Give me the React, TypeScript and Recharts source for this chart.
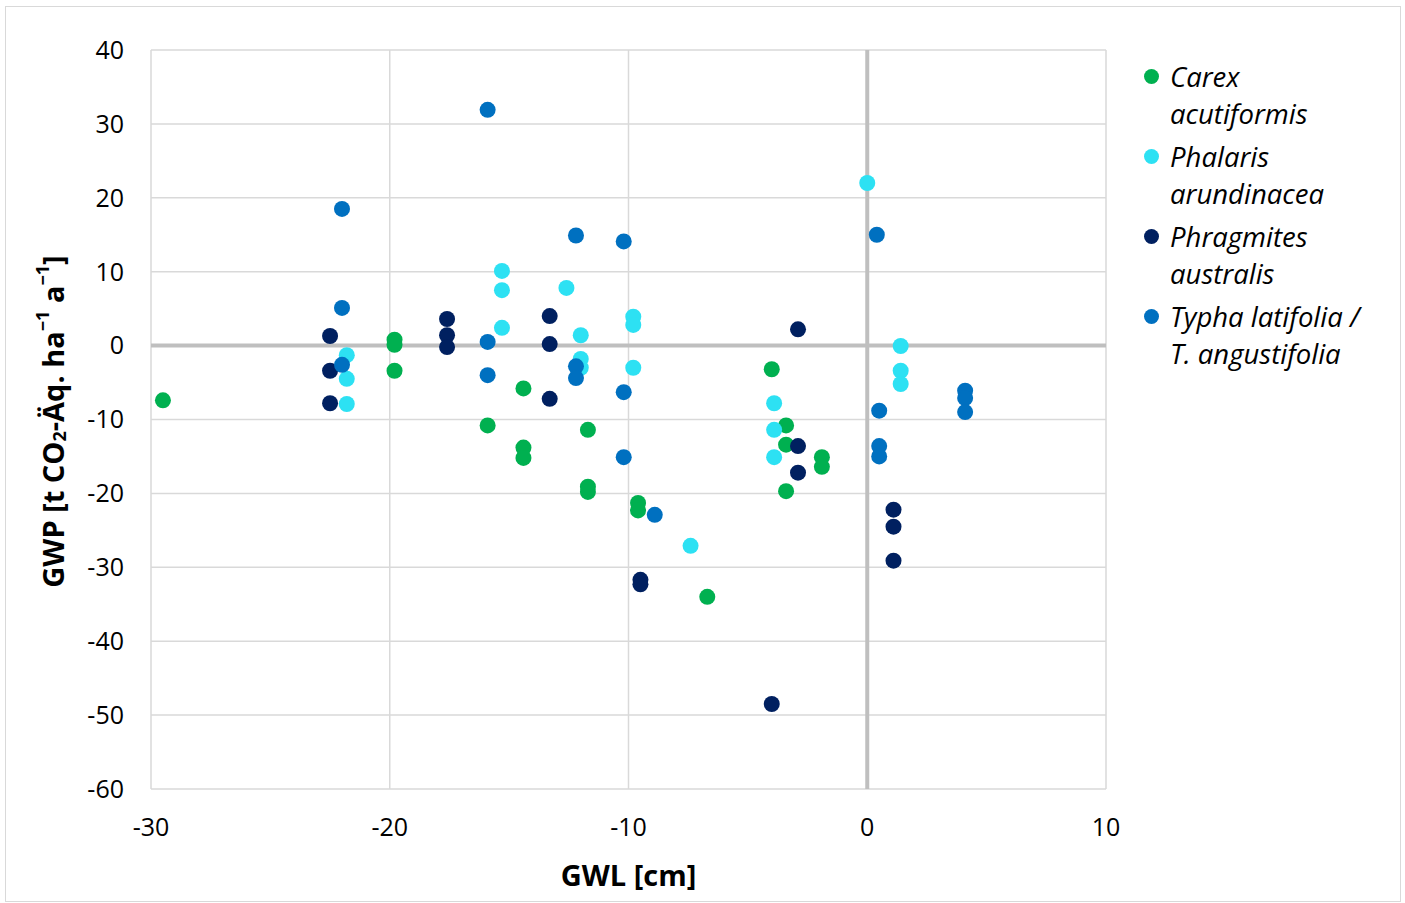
import React from 'react';
import {
  CartesianGrid,
  Label,
  ReferenceLine,
  Scatter,
  ScatterChart,
  XAxis,
  YAxis,
} from 'recharts';

const carex = [
  { gwl: -29.5, gwp: -7.4 },
  { gwl: -19.8, gwp: 0.8 },
  { gwl: -19.8, gwp: 0.1 },
  { gwl: -19.8, gwp: -3.4 },
  { gwl: -15.9, gwp: -10.8 },
  { gwl: -14.4, gwp: -5.8 },
  { gwl: -14.4, gwp: -13.8 },
  { gwl: -14.4, gwp: -15.2 },
  { gwl: -11.7, gwp: -11.4 },
  { gwl: -11.7, gwp: -19.1 },
  { gwl: -11.7, gwp: -19.8 },
  { gwl: -9.6, gwp: -21.3 },
  { gwl: -9.6, gwp: -22.3 },
  { gwl: -6.7, gwp: -34.0 },
  { gwl: -4.0, gwp: -3.2 },
  { gwl: -3.4, gwp: -10.8 },
  { gwl: -3.4, gwp: -13.4 },
  { gwl: -3.4, gwp: -19.7 },
  { gwl: -1.9, gwp: -15.1 },
  { gwl: -1.9, gwp: -16.4 },
];

const phalaris = [
  { gwl: -21.8, gwp: -1.3 },
  { gwl: -21.8, gwp: -4.5 },
  { gwl: -21.8, gwp: -7.9 },
  { gwl: -15.3, gwp: 10.1 },
  { gwl: -15.3, gwp: 7.5 },
  { gwl: -15.3, gwp: 2.4 },
  { gwl: -12.6, gwp: 7.8 },
  { gwl: -12.0, gwp: 1.4 },
  { gwl: -12.0, gwp: -1.8 },
  { gwl: -12.0, gwp: -3.0 },
  { gwl: -9.8, gwp: 3.9 },
  { gwl: -9.8, gwp: 2.8 },
  { gwl: -9.8, gwp: -3.0 },
  { gwl: -7.4, gwp: -27.1 },
  { gwl: -3.9, gwp: -7.8 },
  { gwl: -3.9, gwp: -11.4 },
  { gwl: -3.9, gwp: -15.1 },
  { gwl: 0.0, gwp: 22.0 },
  { gwl: 1.4, gwp: -0.05 },
  { gwl: 1.4, gwp: -3.4 },
  { gwl: 1.4, gwp: -5.2 },
];

const phragmites = [
  { gwl: -22.5, gwp: 1.3 },
  { gwl: -22.5, gwp: -3.4 },
  { gwl: -22.5, gwp: -7.8 },
  { gwl: -17.6, gwp: 3.6 },
  { gwl: -17.6, gwp: 1.4 },
  { gwl: -17.6, gwp: -0.2 },
  { gwl: -13.3, gwp: 4.0 },
  { gwl: -13.3, gwp: 0.2 },
  { gwl: -13.3, gwp: -7.2 },
  { gwl: -9.5, gwp: -31.7 },
  { gwl: -9.5, gwp: -32.3 },
  { gwl: -2.9, gwp: 2.2 },
  { gwl: -2.9, gwp: -13.6 },
  { gwl: -2.9, gwp: -17.2 },
  { gwl: -4.0, gwp: -48.5 },
  { gwl: 1.1, gwp: -22.2 },
  { gwl: 1.1, gwp: -24.5 },
  { gwl: 1.1, gwp: -29.1 },
];

const typha = [
  { gwl: -15.9, gwp: 31.9 },
  { gwl: -22.0, gwp: 18.5 },
  { gwl: -22.0, gwp: 5.1 },
  { gwl: -22.0, gwp: -2.6 },
  { gwl: -15.9, gwp: 0.5 },
  { gwl: -15.9, gwp: -4.0 },
  { gwl: -12.2, gwp: 14.9 },
  { gwl: -12.2, gwp: -2.8 },
  { gwl: -12.2, gwp: -4.4 },
  { gwl: -10.2, gwp: 14.1 },
  { gwl: -10.2, gwp: -6.3 },
  { gwl: -10.2, gwp: -15.1 },
  { gwl: -8.9, gwp: -22.9 },
  { gwl: 0.4, gwp: 15.0 },
  { gwl: 0.5, gwp: -8.8 },
  { gwl: 0.5, gwp: -13.6 },
  { gwl: 0.5, gwp: -15.0 },
  { gwl: 4.1, gwp: -6.1 },
  { gwl: 4.1, gwp: -7.1 },
  { gwl: 4.1, gwp: -9.0 },
];

const xTicks = [-30, -20, -10, 0, 10];
const yTicks = [40, 30, 20, 10, 0, -10, -20, -30, -40, -50, -60];

const series = [
  { name: 'carex', lines: ['Carex', 'acutiformis'], color: '#00B050', data: carex },
  { name: 'phalaris', lines: ['Phalaris', 'arundinacea'], color: '#2DE1F3', data: phalaris },
  { name: 'phragmites', lines: ['Phragmites', 'australis'], color: '#002060', data: phragmites },
  { name: 'typha', lines: ['Typha latifolia /', 'T. angustifolia'], color: '#0070C0', data: typha },
];

const font = '"Open Sans", sans-serif';

const Dot = (color: string) => (props: any) => (
  <circle cx={props.cx} cy={props.cy} r={8} fill={color} />
);

export default function App() {
  return (
    <div style={{ position: 'relative', width: 1405, height: 903, background: '#fff' }}>
      <style>{'body{margin:0}'}</style>
      <div
        style={{
          position: 'absolute',
          left: 5,
          top: 6,
          width: 1394,
          height: 894,
          border: '1px solid #d9d9d9',
        }}
      />
      <div style={{ position: 'absolute', left: 0, top: 0 }}>
        <ScatterChart
          width={1405}
          height={903}
          margin={{ top: 50, right: 299, bottom: 74, left: 71 }}
        >
          <CartesianGrid stroke="#d9d9d9" strokeWidth={1.5} horizontalValues={yTicks} verticalValues={xTicks} />
          <XAxis
            type="number"
            dataKey="gwl"
            domain={[-30, 10]}
            ticks={xTicks}
            axisLine={false}
            tickLine={false}
            tickMargin={23}
            height={40}
            tick={{ fill: '#000', fontSize: 25, fontFamily: font }}
          >
            <Label
              content={(p: any) => {
                const vb = p.viewBox;
                return (
                  <text
                    x={vb.x + vb.width / 2}
                    y={vb.y + vb.height + 45}
                    textAnchor="middle"
                    dominantBaseline="central"
                    fontSize={29}
                    fontWeight="bold"
                    fontFamily={font}
                    fill="#000"
                  >
                    GWL [cm]
                  </text>
                );
              }}
            />
          </XAxis>
          <YAxis
            type="number"
            dataKey="gwp"
            domain={[-60, 40]}
            ticks={yTicks}
            axisLine={false}
            tickLine={false}
            tickMargin={21}
            width={80}
            tick={{ fill: '#000', fontSize: 25, fontFamily: font }}
          >
            <Label
              content={(p: any) => {
                const vb = p.viewBox;
                const cx = 52;
                const cy = vb.y + vb.height / 2 + 2;
                return (
                  <text
                    x={cx}
                    y={cy}
                    transform={`rotate(-90 ${cx} ${cy})`}
                    textAnchor="middle"
                    dominantBaseline="central"
                    fontSize={29}
                    fontWeight="bold"
                    fontFamily={font}
                    fill="#000"
                  >
                    GWP [t CO
                    <tspan fontSize={18} dy={7}>2</tspan>
                    <tspan dy={-7}>-Äq. ha</tspan>
                    <tspan fontSize={18} dy={-10}>−1</tspan>
                    <tspan dy={10}> a</tspan>
                    <tspan fontSize={18} dy={-10}>−1</tspan>
                    <tspan dy={10}>]</tspan>
                  </text>
                );
              }}
            />
          </YAxis>
          <ReferenceLine x={0} stroke="#bfbfbf" strokeWidth={4} />
          <ReferenceLine y={0} stroke="#bfbfbf" strokeWidth={4} />
          {series.map((s) => (
            <Scatter
              key={s.name}
              name={s.name}
              data={s.data}
              fill={s.color}
              shape={Dot(s.color)}
              isAnimationActive={false}
            />
          ))}
        </ScatterChart>
      </div>
      <div
        style={{
          position: 'absolute',
          left: 1144,
          top: 58,
          fontFamily: font,
          fontStyle: 'italic',
          fontSize: 27.5,
          lineHeight: '37px',
          color: '#000',
        }}
      >
        {series.map((s) => (
          <div key={s.name} style={{ position: 'relative', paddingLeft: 26, marginBottom: 6 }}>
            <span
              style={{
                position: 'absolute',
                left: 0,
                top: 11,
                width: 15,
                height: 15,
                borderRadius: '50%',
                background: s.color,
              }}
            />
            {s.lines.map((l) => (
              <div key={l}>{l}</div>
            ))}
          </div>
        ))}
      </div>
    </div>
  );
}
